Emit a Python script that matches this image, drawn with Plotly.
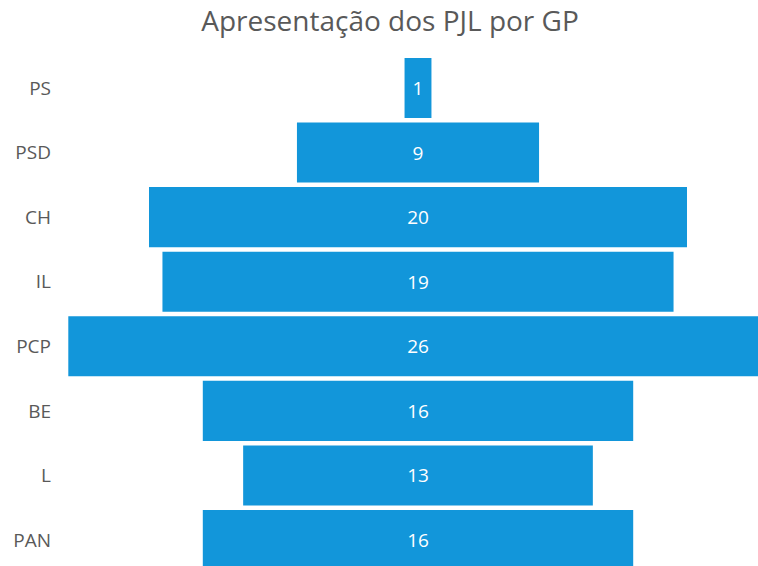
import plotly.graph_objects as go

parties = ["PS", "PSD", "CH", "IL", "PCP", "BE", "L", "PAN"]
values = [1, 9, 20, 19, 26, 16, 13, 16]

W, H = 758, 566
ml, mt = 62, 50
px_per_unit = 26.9
center_px = 418
row_px = 64.57
first_center_px = 88

x_left = -(center_px - ml) / px_per_unit
x_right = (W - center_px) / px_per_unit
y_top = -(first_center_px - mt) / row_px
y_bottom = (len(parties) - 1) + (H - (first_center_px + row_px * (len(parties) - 1))) / row_px

fig = go.Figure(go.Funnel(
    y=parties,
    x=values,
    textinfo="value",
    textposition="inside",
    insidetextanchor="middle",
    textfont=dict(color="white", size=19, family="Open Sans"),
    marker=dict(color="#1296DA"),
    connector=dict(visible=False),
    hoverinfo="y+x",
    cliponaxis=True,
))

fig.update_layout(
    width=W, height=H,
    margin=dict(l=ml, r=0, t=mt, b=0, autoexpand=False),
    paper_bgcolor="white",
    plot_bgcolor="white",
    funnelgap=0.07,
    showlegend=False,
    title=dict(text="Apresentação dos PJL por GP", x=390 / W, xanchor="center",
               y=1 - 21 / H, yanchor="middle",
               font=dict(family="Open Sans", size=28, color="#595959")),
    xaxis=dict(range=[x_left, x_right], autorange=False, visible=False,
               fixedrange=True, automargin=False),
    yaxis=dict(range=[y_bottom, y_top], autorange=False, showgrid=False, zeroline=False,
               showline=False, ticks="", ticklabelstandoff=10, automargin=False,
               tickfont=dict(family="Open Sans", size=19, color="#595959")),
)

fig.write_html(
    "out.html",
    config={"displayModeBar": False},
    post_script="document.body.style.margin='0';document.body.style.overflow='hidden';",
)
